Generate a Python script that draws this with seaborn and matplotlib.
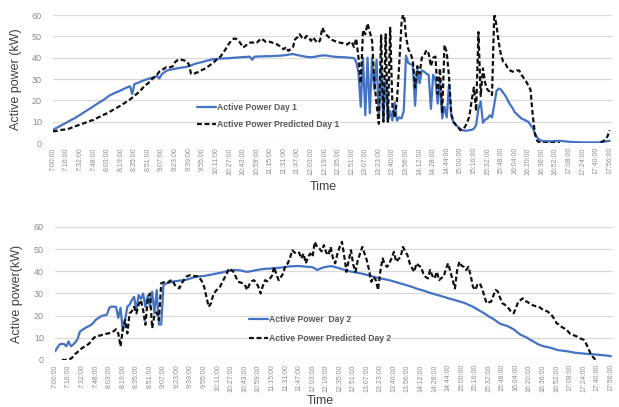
import numpy as np
import pandas as pd
import matplotlib
matplotlib.use("Agg")
import matplotlib.pyplot as plt
import seaborn as sns

nan = float("nan")

# --- DATA (6 samples between consecutive time ticks) ---
PTS_PER_TICK = 6

TIME_TICKS = [
    "7:00:00", "7:16:00", "7:32:00", "7:48:00", "8:03:00", "8:19:00", "8:35:00",
    "8:51:00", "9:07:00", "9:23:00", "9:39:00", "9:55:00", "10:11:00", "10:27:00",
    "10:43:00", "10:59:00", "11:15:00", "11:31:00", "11:47:00", "12:03:00", "12:19:00",
    "12:35:00", "12:51:00", "13:07:00", "13:23:00", "13:40:00", "13:56:00", "14:12:00",
    "14:28:00", "14:44:00", "15:00:00", "15:16:00", "15:32:00", "15:48:00", "16:04:00",
    "16:20:00", "16:36:00", "16:52:00", "17:08:00", "17:24:00", "17:40:00", "17:56:00",
]

DAY1_ACTUAL = [
    6.2, 6.8, 7.3, 7.9, 8.5, 9.0,
    9.6, 10.2, 10.8, 11.3, 11.9, 12.6,
    13.2, 13.9, 14.6, 15.3, 15.9, 16.6,
    17.3, 18.0, 18.7, 19.4, 20.0, 20.7,
    21.5, 22.3, 22.8, 23.3, 23.8, 24.2,
    24.7, 25.2, 25.7, 26.2, 26.6, 23.0,
    27.6, 28.0, 28.4, 28.9, 29.3, 29.7,
    30.0, 30.4, 30.7, 31.0, 31.4, 30.2,
    32.2, 33.0, 33.8, 34.2, 34.4, 34.6,
    34.8, 35.0, 35.2, 35.4, 35.5, 35.7,
    36.0, 36.4, 36.8, 37.2, 37.5, 37.7,
    38.0, 38.3, 38.6, 38.8, 39.1, 39.3,
    39.4, 39.5, 39.6, 39.6, 39.7, 39.7,
    39.8, 39.9, 40.0, 40.0, 40.1, 40.2,
    40.3, 40.3, 40.4, 40.5, 39.0, 40.5,
    40.5, 40.6, 40.6, 40.6, 40.7, 40.7,
    40.7, 40.8, 40.8, 40.9, 40.9, 41.0,
    41.1, 41.2, 41.4, 41.6, 41.7, 41.5,
    41.2, 41.0, 40.8, 40.6, 40.4, 40.3,
    40.2, 40.3, 40.5, 40.7, 40.9, 41.0,
    41.1, 41.0, 40.8, 40.6, 40.5, 40.4,
    40.3, 40.3, 40.2, 40.2, 40.1, 40.0,
    39.9, 39.8, 38.0, 33.0, 17.0, 40.0,
    13.0, 40.0, 14.0, 40.0, 25.0, 39.0,
    12.0, 36.0, 11.0, 30.0, 10.0, 15.0,
    10.6, 19.0, 10.5, 12.0, 11.5, 15.0,
    41.0, 37.5, 37.0, 36.5, 17.5, 34.5,
    28.0, 34.0, 33.5, 32.5, 32.0, 16.0,
    32.0, 29.5, 18.5, 29.0, 11.5, 17.0,
    12.0, 27.5, 13.0, 9.5, 8.5, 7.5,
    6.5, 6.0, 5.8, 5.8, 6.0, 6.2,
    6.7, 8.5, 16.0, 19.5, 9.5, 11.0,
    11.5, 13.0, 12.0, 18.0, 24.5, 25.5,
    25.0, 23.5, 22.0, 20.0, 18.0, 16.5,
    14.5, 13.5, 12.5, 11.5, 11.0, 10.5,
    10.0, 8.5, 7.0, 4.5, 2.5, 1.5,
    1.0, 0.9, 0.9, 0.8, 0.8, 0.9,
    1.0, 1.0, 1.0, 0.9, 0.8, 0.7,
    0.6, 0.5, 0.5, 0.4, 0.4, 0.4,
    0.3, 0.3, 0.3, 0.3, 0.3, 0.3,
    0.3, 0.3, 0.4, 0.5, 0.7, 0.9,
    1.0,
]

DAY1_PRED = [
    5.4, 5.6, 5.8, 6.0, 6.2, 6.3,
    6.4, 6.7, 7.1, 7.5, 7.9, 8.3,
    8.6, 9.0, 9.4, 9.8, 10.2, 10.6,
    10.8, 11.4, 12.0, 12.5, 13.1, 13.5,
    14.0, 14.6, 15.2, 15.8, 16.4, 17.0,
    17.6, 18.3, 19.0, 19.7, 20.4, 21.2,
    22.2, 23.0, 24.0, 25.0, 26.2, 27.2,
    28.0, 29.0, 30.2, 31.0, 32.0, 33.5,
    34.2, 34.8, 35.5, 35.3, 35.6, 36.0,
    38.0, 38.8, 39.2, 39.0, 38.7, 38.3,
    37.0, 32.5, 32.3, 32.8, 33.2, 33.8,
    34.3, 34.8, 35.5, 36.2, 37.0, 37.8,
    38.8, 39.5, 40.5, 42.0, 43.5, 45.2,
    47.0, 48.0, 49.0, 48.8, 48.0, 46.5,
    44.8, 45.5, 46.5, 47.0, 47.2, 46.8,
    47.0, 48.0, 49.0, 48.3, 47.4, 47.6,
    47.4, 47.0, 46.8, 46.2, 45.6, 44.5,
    44.0, 45.0, 43.2, 44.0, 44.8, 48.7,
    49.5, 51.0, 49.5, 48.7, 50.2, 49.5,
    47.9, 49.5, 48.0, 47.0, 48.0, 54.0,
    51.9, 50.5, 49.5, 48.5, 48.0, 47.6,
    47.2, 47.0, 46.8, 46.4, 46.2, 47.0,
    47.5, 45.0, 49.0, 40.0, 28.0, 53.0,
    51.0, 56.0, 52.0, 48.0, 29.0, 18.0,
    9.0, 50.5, 10.0, 51.0, 10.0, 54.0,
    17.0, 12.0, 20.0, 37.0, 56.0, 62.0,
    50.0, 44.0, 42.0, 38.8, 26.0, 36.0,
    32.5, 40.0, 41.0, 43.5, 42.0, 36.0,
    40.0, 40.5, 23.0, 35.0, 14.0, 46.0,
    42.5, 31.0, 13.5, 10.0, 8.5, 7.5,
    6.0, 6.5, 7.5, 9.5, 12.5, 20.0,
    26.0, 15.0, 52.0, 22.0, 35.0, 28.0,
    25.0, 24.0, 22.5, 61.0, 55.0, 47.0,
    41.0, 38.0, 37.0, 35.0, 34.0, 33.5,
    33.5, 34.0, 34.0, 32.0, 30.5, 29.0,
    27.0, 25.0, 13.0, 4.0, 1.0, 0.3,
    0.2, 0.0, 0.0, 0.3, 0.0, 0.0,
    0.2, 0.0, 0.0, nan, nan, nan,
    nan, nan, nan, nan, nan, nan,
    nan, nan, nan, nan, nan, nan,
    nan, nan, 0.3, 0.8, 1.5, 3.0,
    6.0,
]

DAY2_ACTUAL = [
    3.9, 5.5, 7.0, 7.3, 7.2, 6.2,
    8.4, 6.2, 6.9, 8.0, 9.5, 12.8,
    13.5, 14.2, 14.8, 15.3, 15.9, 16.8,
    18.1, 18.8, 19.5, 20.0, 20.2, 20.5,
    23.5, 24.1, 24.0, 24.0, 19.0, 23.5,
    13.0, 18.0, 24.0, 25.0, 27.0, 28.5,
    22.6, 29.3, 27.5, 30.0, 24.0, 29.0,
    24.0, 30.8, 21.0, 31.6, 16.0, 16.0,
    33.8, 34.4, 34.8, 35.0, 35.3, 35.5,
    35.6, 35.8, 35.9, 36.0, 36.2, 36.5,
    36.8, 37.1, 37.4, 37.6, 37.7, 37.8,
    37.9, 38.1, 38.3, 38.5, 38.7, 38.9,
    39.1, 39.3, 39.5, 39.8, 40.0, 40.2,
    40.4, 40.6, 40.6, 40.5, 40.4, 40.2,
    39.9, 39.8, 39.9, 40.1, 40.3, 40.5,
    40.7, 40.9, 41.0, 41.1, 41.2, 41.2,
    41.3, 41.4, 41.5, 41.6, 41.7, 41.8,
    42.0, 42.1, 42.2, 42.3, 42.3, 42.4,
    42.4, 42.3, 42.2, 42.1, 42.0, 42.0,
    41.8, 41.3, 40.6, 41.0, 41.5, 41.8,
    42.0, 42.2, 42.3, 42.2, 41.9, 41.6,
    41.3, 41.0, 40.7, 40.4, 40.1, 39.9,
    39.7, 39.5, 39.3, 39.1, 38.9, 38.7,
    38.4, 38.1, 37.8, 37.6, 37.3, 37.0,
    36.8, 36.6, 36.4, 36.2, 36.0, 35.7,
    35.4, 35.1, 34.8, 34.5, 34.2, 33.9,
    33.6, 33.3, 33.0, 32.6, 32.2, 31.9,
    31.6, 31.3, 31.0, 30.6, 30.3, 30.0,
    29.7, 29.4, 29.1, 28.8, 28.5, 28.2,
    27.8, 27.6, 27.3, 27.0, 26.7, 26.4,
    26.1, 25.8, 25.4, 24.9, 24.5, 24.0,
    23.4, 22.8, 22.2, 21.6, 21.0, 20.4,
    19.6, 19.1, 18.5, 17.8, 17.0, 16.4,
    16.0, 15.7, 15.4, 14.9, 14.4, 13.8,
    13.0, 12.2, 11.4, 11.0, 10.5, 10.0,
    9.3, 8.8, 8.2, 7.6, 7.0, 6.6,
    6.3, 6.0, 5.8, 5.6, 5.3, 5.0,
    4.6, 4.4, 4.3, 4.1, 4.0, 3.9,
    3.7, 3.5, 3.3, 3.2, 3.1, 3.0,
    2.9, 2.8, 2.7, 2.6, 2.6, 2.5,
    2.4, 2.3, 2.2, 2.1, 2.0, 1.9,
    1.7,
]

DAY2_PRED = [
    nan, nan, nan, 0.0, 0.0, 0.1,
    0.3, 0.6, 1.5, 2.8, 3.6, 4.5,
    5.4, 6.0, 6.6, 7.3, 8.5, 9.8,
    10.6, 11.0, 11.0, 11.4, 11.6, 11.9,
    12.1, 12.5, 13.0, 13.9, 12.0, 6.1,
    14.0, 18.1, 12.0, 21.0, 22.0, 24.0,
    21.0, 25.0, 27.0, 22.6, 15.9, 27.0,
    30.0, 14.4, 20.0, 21.5, 18.0, 34.6,
    35.0, 35.3, 35.0, 35.8, 36.0, 33.8,
    33.0, 32.3, 34.5, 36.0, 37.5, 38.0,
    38.3, 38.0, 37.8, 37.8, 37.0, 35.5,
    33.0, 28.5, 24.0, 25.5, 29.3, 31.0,
    32.0, 33.0, 35.0, 37.0, 39.0, 41.3,
    40.5, 39.8, 37.5, 35.3, 35.0, 34.6,
    34.0, 31.6, 34.0, 35.5, 36.0, 35.0,
    33.0, 30.0, 33.5, 36.0, 35.5, 36.5,
    38.0, 42.0, 38.5, 36.0, 37.5, 39.0,
    42.8, 43.5, 46.0, 49.5, 48.5, 48.0,
    48.5, 45.8, 48.0, 43.6, 46.5, 48.0,
    46.6, 53.3, 51.0, 50.3, 49.0, 51.8,
    48.5, 47.3, 51.0, 46.0, 43.6, 48.0,
    51.0, 53.3, 47.0, 39.8, 45.0, 49.5,
    43.0, 39.8, 45.0, 48.0, 51.0, 48.0,
    45.0, 40.6, 35.3, 37.5, 36.0, 31.6,
    40.0, 45.8, 43.0, 42.0, 43.6, 46.0,
    48.8, 44.3, 45.5, 46.6, 51.0, 49.0,
    47.3, 43.6, 41.5, 39.8, 43.6, 42.5,
    42.0, 39.0, 37.5, 36.8, 40.6, 38.0,
    36.8, 39.8, 36.0, 37.0, 37.5, 41.0,
    43.6, 39.8, 36.0, 32.3, 40.6, 44.3,
    42.5, 42.0, 40.6, 42.0, 38.0, 33.0,
    31.6, 34.0, 34.6, 32.3, 29.0, 25.6,
    26.0, 26.3, 29.0, 31.6, 30.9, 28.0,
    25.6, 25.0, 24.1, 23.0, 21.5, 21.1,
    23.4, 26.3, 27.0, 27.8, 26.5, 26.3,
    25.5, 24.9, 24.5, 24.2, 24.1, 23.4,
    22.6, 22.3, 21.9, 21.0, 20.0, 18.5,
    16.6, 16.0, 15.1, 14.5, 13.9, 13.0,
    11.8, 11.4, 11.0, 10.6, 10.0, 9.5,
    9.1, 7.5, 5.4, 3.0, 1.5, 0.3,
    0.0, nan, nan, nan, nan, nan,
    nan,
]

# --- STYLE ---
BLUE = "#4472C4"
DASH = "#111111"
GRID = "#d9d9d9"
TICK_COLOR = "#8c8c8c"
LABEL_COLOR = "#404040"
LEGEND_COLOR = "#595959"

sns.set_theme(style="white")
plt.rcParams["font.family"] = ["Liberation Sans", "DejaVu Sans"]


def to_frame(values):
    # long form with a segment id so gaps (NaN) stay gaps
    df = pd.DataFrame({"step": np.arange(len(values)), "kw": values})
    df["seg"] = df["kw"].isna().cumsum()
    return df.dropna()


def draw_panel(ax, actual, pred, names, ylabel, legend_anchor, legend_spacing):
    sns.lineplot(data=to_frame(actual), x="step", y="kw", units="seg", ax=ax,
                 color=BLUE, linewidth=1.6, estimator=None)
    sns.lineplot(data=to_frame(pred), x="step", y="kw", units="seg", ax=ax,
                 color=DASH, linewidth=1.6, linestyle=(0, (2.2, 1.2)),
                 estimator=None)

    n_ticks = len(TIME_TICKS)
    ax.set_xticks(np.arange(n_ticks) * PTS_PER_TICK)
    ax.set_xticklabels(TIME_TICKS, rotation=90)
    ax.set_xlim(0, (n_ticks - 1) * PTS_PER_TICK + 1)
    ax.set_ylim(0, 60)
    ax.set_yticks(range(0, 61, 10))

    ax.tick_params(axis="x", labelsize=5, colors=TICK_COLOR, length=0, pad=3)
    ax.tick_params(axis="y", labelsize=6.5, colors=TICK_COLOR, length=0, pad=8)
    ax.yaxis.grid(True, color=GRID, linewidth=0.9)
    ax.xaxis.grid(False)
    for s in ax.spines.values():
        s.set_visible(False)

    ax.set_ylabel(ylabel, fontsize=9, color=LABEL_COLOR)
    ax.set_xlabel("Time", fontsize=9, color=LABEL_COLOR)

    # one legend entry per series (first drawn segment of each colour)
    blue_line = next(l for l in ax.lines if l.get_color() == BLUE)
    dash_line = next(l for l in ax.lines if l.get_color() == DASH)
    ax.legend([blue_line, dash_line], names,
              loc="upper left", bbox_to_anchor=legend_anchor, frameon=False,
              borderpad=0, handlelength=2.2, handletextpad=0.15,
              labelspacing=legend_spacing,
              prop={"weight": "bold", "size": 6.2}, labelcolor=LEGEND_COLOR)


fig = plt.figure(figsize=(6.19, 4.07), dpi=100)
ax1 = fig.add_axes([0.0856, 0.6486, 0.903, 0.3145])
ax2 = fig.add_axes([0.0889, 0.1155, 0.9015, 0.3268])

draw_panel(ax1, DAY1_ACTUAL, DAY1_PRED,
           ["Active Power Day 1", "Active Power Predicted Day 1"],
           "Active power (kW)", (0.25, 0.35), 0.95)
ax1.yaxis.set_label_coords(-0.055, 0.5)
ax1.xaxis.set_label_coords(0.483, -0.30)

draw_panel(ax2, DAY2_ACTUAL, DAY2_PRED,
           ["Active Power  Day 2", "Active Power Predicted Day 2"],
           "Active power(kW)", (0.34, 0.37), 1.15)
ax2.yaxis.set_label_coords(-0.058, 0.5)
ax2.xaxis.set_label_coords(0.475, -0.265)

fig.savefig("out.png", dpi=100, facecolor="white")
